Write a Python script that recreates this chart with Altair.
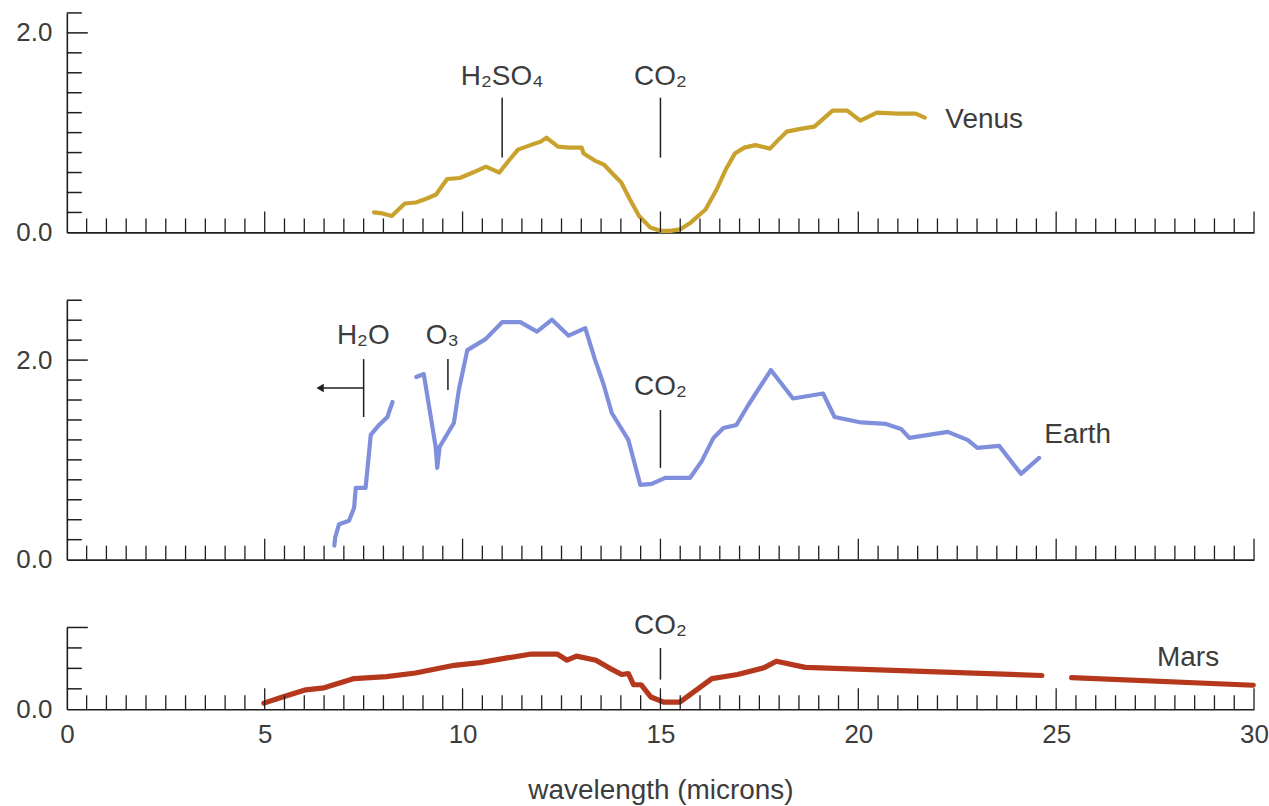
import altair as alt
import pandas as pd

# ---------------- data ----------------
venus_w = [7.76, 7.98, 8.21, 8.54, 8.82, 9.10, 9.33, 9.61, 9.93, 10.26, 10.59, 10.93,
           11.15, 11.40, 11.75, 11.98, 12.12, 12.41, 12.69, 13.01, 13.06, 13.34, 13.57,
           13.81, 14.01, 14.23, 14.46, 14.74, 15.00, 15.25, 15.49, 15.77, 16.14, 16.42,
           16.65, 16.88, 17.12, 17.40, 17.77, 17.96, 18.19, 18.57, 18.89, 19.12, 19.35,
           19.72, 20.05, 20.47, 20.98, 21.45, 21.68]
venus_v = [0.20, 0.19, 0.165, 0.29, 0.30, 0.34, 0.38, 0.535, 0.545, 0.60, 0.66, 0.60,
           0.71, 0.83, 0.88, 0.91, 0.95, 0.86, 0.85, 0.85, 0.79, 0.72, 0.68,
           0.58, 0.50, 0.33, 0.165, 0.05, 0.016, 0.016, 0.03, 0.10, 0.23, 0.43,
           0.63, 0.79, 0.85, 0.875, 0.84, 0.92, 1.01, 1.04, 1.06, 1.14, 1.22,
           1.22, 1.12, 1.20, 1.19, 1.19, 1.15]

earth_w = [6.76, 6.78, 6.88, 7.13, 7.26, 7.30, 7.55, 7.68, 7.89, 8.10, 8.23,
           8.83, 9.02, 9.32, 9.36, 9.42, 9.78, 9.91, 10.12, 10.58, 11.00, 11.46, 11.88,
           12.26, 12.68, 13.10, 13.35, 13.56, 13.77, 14.19, 14.49, 14.78, 15.12, 15.75,
           16.04, 16.34, 16.59, 16.92, 17.22, 17.79, 18.35, 19.11, 19.40, 20.07, 20.70,
           21.08, 21.29, 22.26, 22.76, 23.01, 23.56, 24.11, 24.57]
earth_v = [0.14, 0.22, 0.355, 0.39, 0.52, 0.72, 0.72, 1.25, 1.35, 1.43, 1.58,
           1.83, 1.86, 1.13, 0.92, 1.13, 1.37, 1.71, 2.10, 2.21, 2.38, 2.38, 2.285,
           2.405, 2.245, 2.32, 2.00, 1.76, 1.47, 1.20, 0.75, 0.76, 0.82, 0.82,
           0.985, 1.22, 1.32, 1.35, 1.55, 1.90, 1.615, 1.665, 1.43, 1.375, 1.36,
           1.31, 1.22, 1.28, 1.20, 1.12, 1.14, 0.86, 1.02]
earth_seg = ["a"] * 11 + ["b"] * 42

mars_w = [4.98, 5.45, 6.04, 6.50, 7.26, 8.08, 8.81, 9.79, 10.44, 11.09, 11.74, 12.39,
          12.64, 12.88, 13.37, 13.70, 14.02, 14.19, 14.32, 14.51, 14.76, 15.08, 15.49,
          16.30, 16.95, 17.61, 17.93, 18.66, 24.64,
          25.39, 29.98]
mars_v = [0.06, 0.12, 0.19, 0.21, 0.30, 0.32, 0.355, 0.43, 0.456, 0.50, 0.54, 0.54,
          0.48, 0.52, 0.48, 0.405, 0.34, 0.35, 0.24, 0.24, 0.12, 0.07, 0.07,
          0.30, 0.34, 0.405, 0.47, 0.41, 0.33,
          0.31, 0.235]
mars_seg = ["a"] * 29 + ["b"] * 2

x_label_values = [0, 5, 10, 15, 20, 25, 30]
x_major_ticks = [5, 10, 15, 20, 25, 30]
x_minor_ticks = [k / 2 for k in range(1, 60) if k % 10 != 0]

venus_y_minor = [0.2, 0.4, 0.6, 0.8, 1.0, 1.2, 1.4, 1.6, 1.8, 2.2]
venus_y_major = [2.0]
earth_y_minor = [0.2, 0.4, 0.6, 0.8, 1.0, 1.2, 1.4, 1.6, 1.8, 2.2, 2.4, 2.6]
earth_y_major = [2.0]
mars_y_minor = [0.2, 0.4, 0.6]
mars_y_major = [0.8]

# annotations: molecule labels, their marker lines, planet names
venus_mol = ["H₂SO₄", "CO₂"]
venus_mol_x = [11.0, 15.0]
venus_mol_y = [1.475, 1.475]
venus_line_x = [11.0, 15.0]
venus_line_y1 = [0.75, 0.75]
venus_line_y2 = [1.35, 1.35]
venus_name = ["Venus"]
venus_name_x = [22.2]
venus_name_y = [1.05]

earth_mol = ["H₂O", "O₃", "CO₂"]
earth_mol_x = [7.49, 9.49, 15.0]
earth_mol_y = [2.16, 2.16, 1.65]
earth_line_x = [7.5, 9.63, 15.0]
earth_line_y1 = [1.43, 1.70, 0.92]
earth_line_y2 = [2.01, 2.01, 1.50]
earth_arrow_x1 = [7.5]
earth_arrow_x2 = [6.4]
earth_arrow_y = [1.72]
earth_name = ["Earth"]
earth_name_x = [24.7]
earth_name_y = [1.17]

mars_mol = ["CO₂"]
mars_mol_x = [15.0]
mars_mol_y = [0.74]
mars_line_x = [15.0]
mars_line_y1 = [0.29]
mars_line_y2 = [0.60]
mars_name = ["Mars"]
mars_name_x = [27.55]
mars_name_y = [0.42]

# ---------------- styling ----------------
FONT = "Liberation Sans"
TXT = "#3c3c3c"
AX = "#1e1e1e"
W = 1190

xs = alt.Scale(domain=[0, 30], nice=False, zero=False)

plain_x_axis = alt.Axis(labels=False, ticks=False, tickSize=0, domain=True,
                        domainColor=AX, domainWidth=1.6, grid=False, title=None)
mars_x_axis = alt.Axis(values=x_label_values, format="d", labels=True, ticks=False,
                       tickSize=0, domain=True, domainColor=AX, domainWidth=1.6,
                       grid=False, labelFont=FONT, labelFontSize=26, labelColor=TXT,
                       labelPadding=12, labelFlush=False, labelOverlap=False,
                       title="wavelength (microns)", titleFont=FONT, titleFontSize=28,
                       titleFontWeight="normal", titleColor=TXT, titlePadding=29)


def panel(w, v, seg, color, sw, ymax, height, y_minor, y_major, y_labels,
          mol, mol_x, mol_y, line_x, line_y1, line_y2, name, name_x, name_y,
          x_axis, arrow=None):
    ys = alt.Scale(domain=[0, ymax], nice=False, zero=False)
    y_axis = alt.Axis(values=y_labels, format=".1f", ticks=False, tickSize=0,
                      domain=True, domainColor=AX, domainWidth=1.6, grid=False,
                      labelFont=FONT, labelFontSize=26, labelColor=TXT,
                      labelPadding=15, labelFlush=False, labelOverlap=False, title=None)

    def X(f):
        return alt.X(f, type="quantitative", scale=xs, axis=x_axis)

    def Y(f):
        return alt.Y(f, type="quantitative", scale=ys, axis=y_axis)

    df = pd.DataFrame({"w": w, "v": v, "seg": seg})
    curve = alt.Chart(df).mark_line(color=color, strokeWidth=sw, strokeJoin="round",
                                    strokeCap="round").encode(
        x=X("w"), y=Y("v"), detail="seg:N")

    xmin = alt.Chart(pd.DataFrame({"t": x_minor_ticks})).mark_rule(
        color=AX, strokeWidth=1.3).encode(x=X("t"), y=alt.value(height),
                                          y2=alt.value(height - 14))
    xmaj = alt.Chart(pd.DataFrame({"t": x_major_ticks})).mark_rule(
        color=AX, strokeWidth=1.3).encode(x=X("t"), y=alt.value(height),
                                          y2=alt.value(height - 21))
    ymin = alt.Chart(pd.DataFrame({"t": y_minor})).mark_rule(
        color=AX, strokeWidth=1.5).encode(y=Y("t"), x=alt.value(0), x2=alt.value(15))
    ymaj = alt.Chart(pd.DataFrame({"t": y_major})).mark_rule(
        color=AX, strokeWidth=1.5).encode(y=Y("t"), x=alt.value(0), x2=alt.value(21))

    mol_df = pd.DataFrame({"x": mol_x, "y": mol_y, "label": mol})
    mol_text = alt.Chart(mol_df).mark_text(align="center", baseline="alphabetic",
                                           font=FONT, fontSize=28, color=TXT).encode(
        x=X("x"), y=Y("y"), text="label:N")
    line_df = pd.DataFrame({"x": line_x, "y1": line_y1, "y2": line_y2})
    mol_lines = alt.Chart(line_df).mark_rule(color=AX, strokeWidth=1.5).encode(
        x=X("x"), y=Y("y1"), y2="y2:Q")
    name_df = pd.DataFrame({"x": name_x, "y": name_y, "label": name})
    name_text = alt.Chart(name_df).mark_text(align="left", baseline="alphabetic",
                                             font=FONT, fontSize=28, color=TXT).encode(
        x=X("x"), y=Y("y"), text="label:N")

    layers = [curve, xmin, xmaj, ymin, ymaj, mol_lines, mol_text, name_text]
    if arrow is not None:
        ax1, ax2, ay = arrow
        adf = pd.DataFrame({"x1": ax1, "x2": ax2, "y": ay})
        shaft = alt.Chart(adf).mark_rule(color=AX, strokeWidth=1.5).encode(
            x=X("x1"), x2="x2:Q", y=Y("y"))
        head = alt.Chart(adf).mark_point(shape="triangle-left", filled=True,
                                         color=AX, size=70, opacity=1).encode(
            x=X("x2"), y=Y("y"))
        layers += [shaft, head]
    return alt.layer(*layers).properties(width=W, height=height)


venus = panel(venus_w, venus_v, ["a"] * len(venus_w), "#c9a22e", 4.2, 2.2, 220,
              venus_y_minor, venus_y_major, [0, 2],
              venus_mol, venus_mol_x, venus_mol_y,
              venus_line_x, venus_line_y1, venus_line_y2,
              venus_name, venus_name_x, venus_name_y, plain_x_axis)

earth = panel(earth_w, earth_v, earth_seg, "#7f8fdc", 4.2, 2.6, 260,
              earth_y_minor, earth_y_major, [0, 2],
              earth_mol, earth_mol_x, earth_mol_y,
              earth_line_x, earth_line_y1, earth_line_y2,
              earth_name, earth_name_x, earth_name_y, plain_x_axis,
              arrow=(earth_arrow_x1, earth_arrow_x2, earth_arrow_y))

mars = panel(mars_w, mars_v, mars_seg, "#b5381c", 5.2, 0.8, 82,
             mars_y_minor, mars_y_major, [0],
             mars_mol, mars_mol_x, mars_mol_y,
             mars_line_x, mars_line_y1, mars_line_y2,
             mars_name, mars_name_x, mars_name_y, mars_x_axis)

chart = alt.vconcat(venus, earth, mars, spacing=68, bounds="flush").properties(
    padding={"left": 15, "top": 11, "right": 0, "bottom": 0},
    background="white",
).configure_view(stroke=None)

chart.save("out.html", embed_options={"renderer": "svg", "actions": False})
